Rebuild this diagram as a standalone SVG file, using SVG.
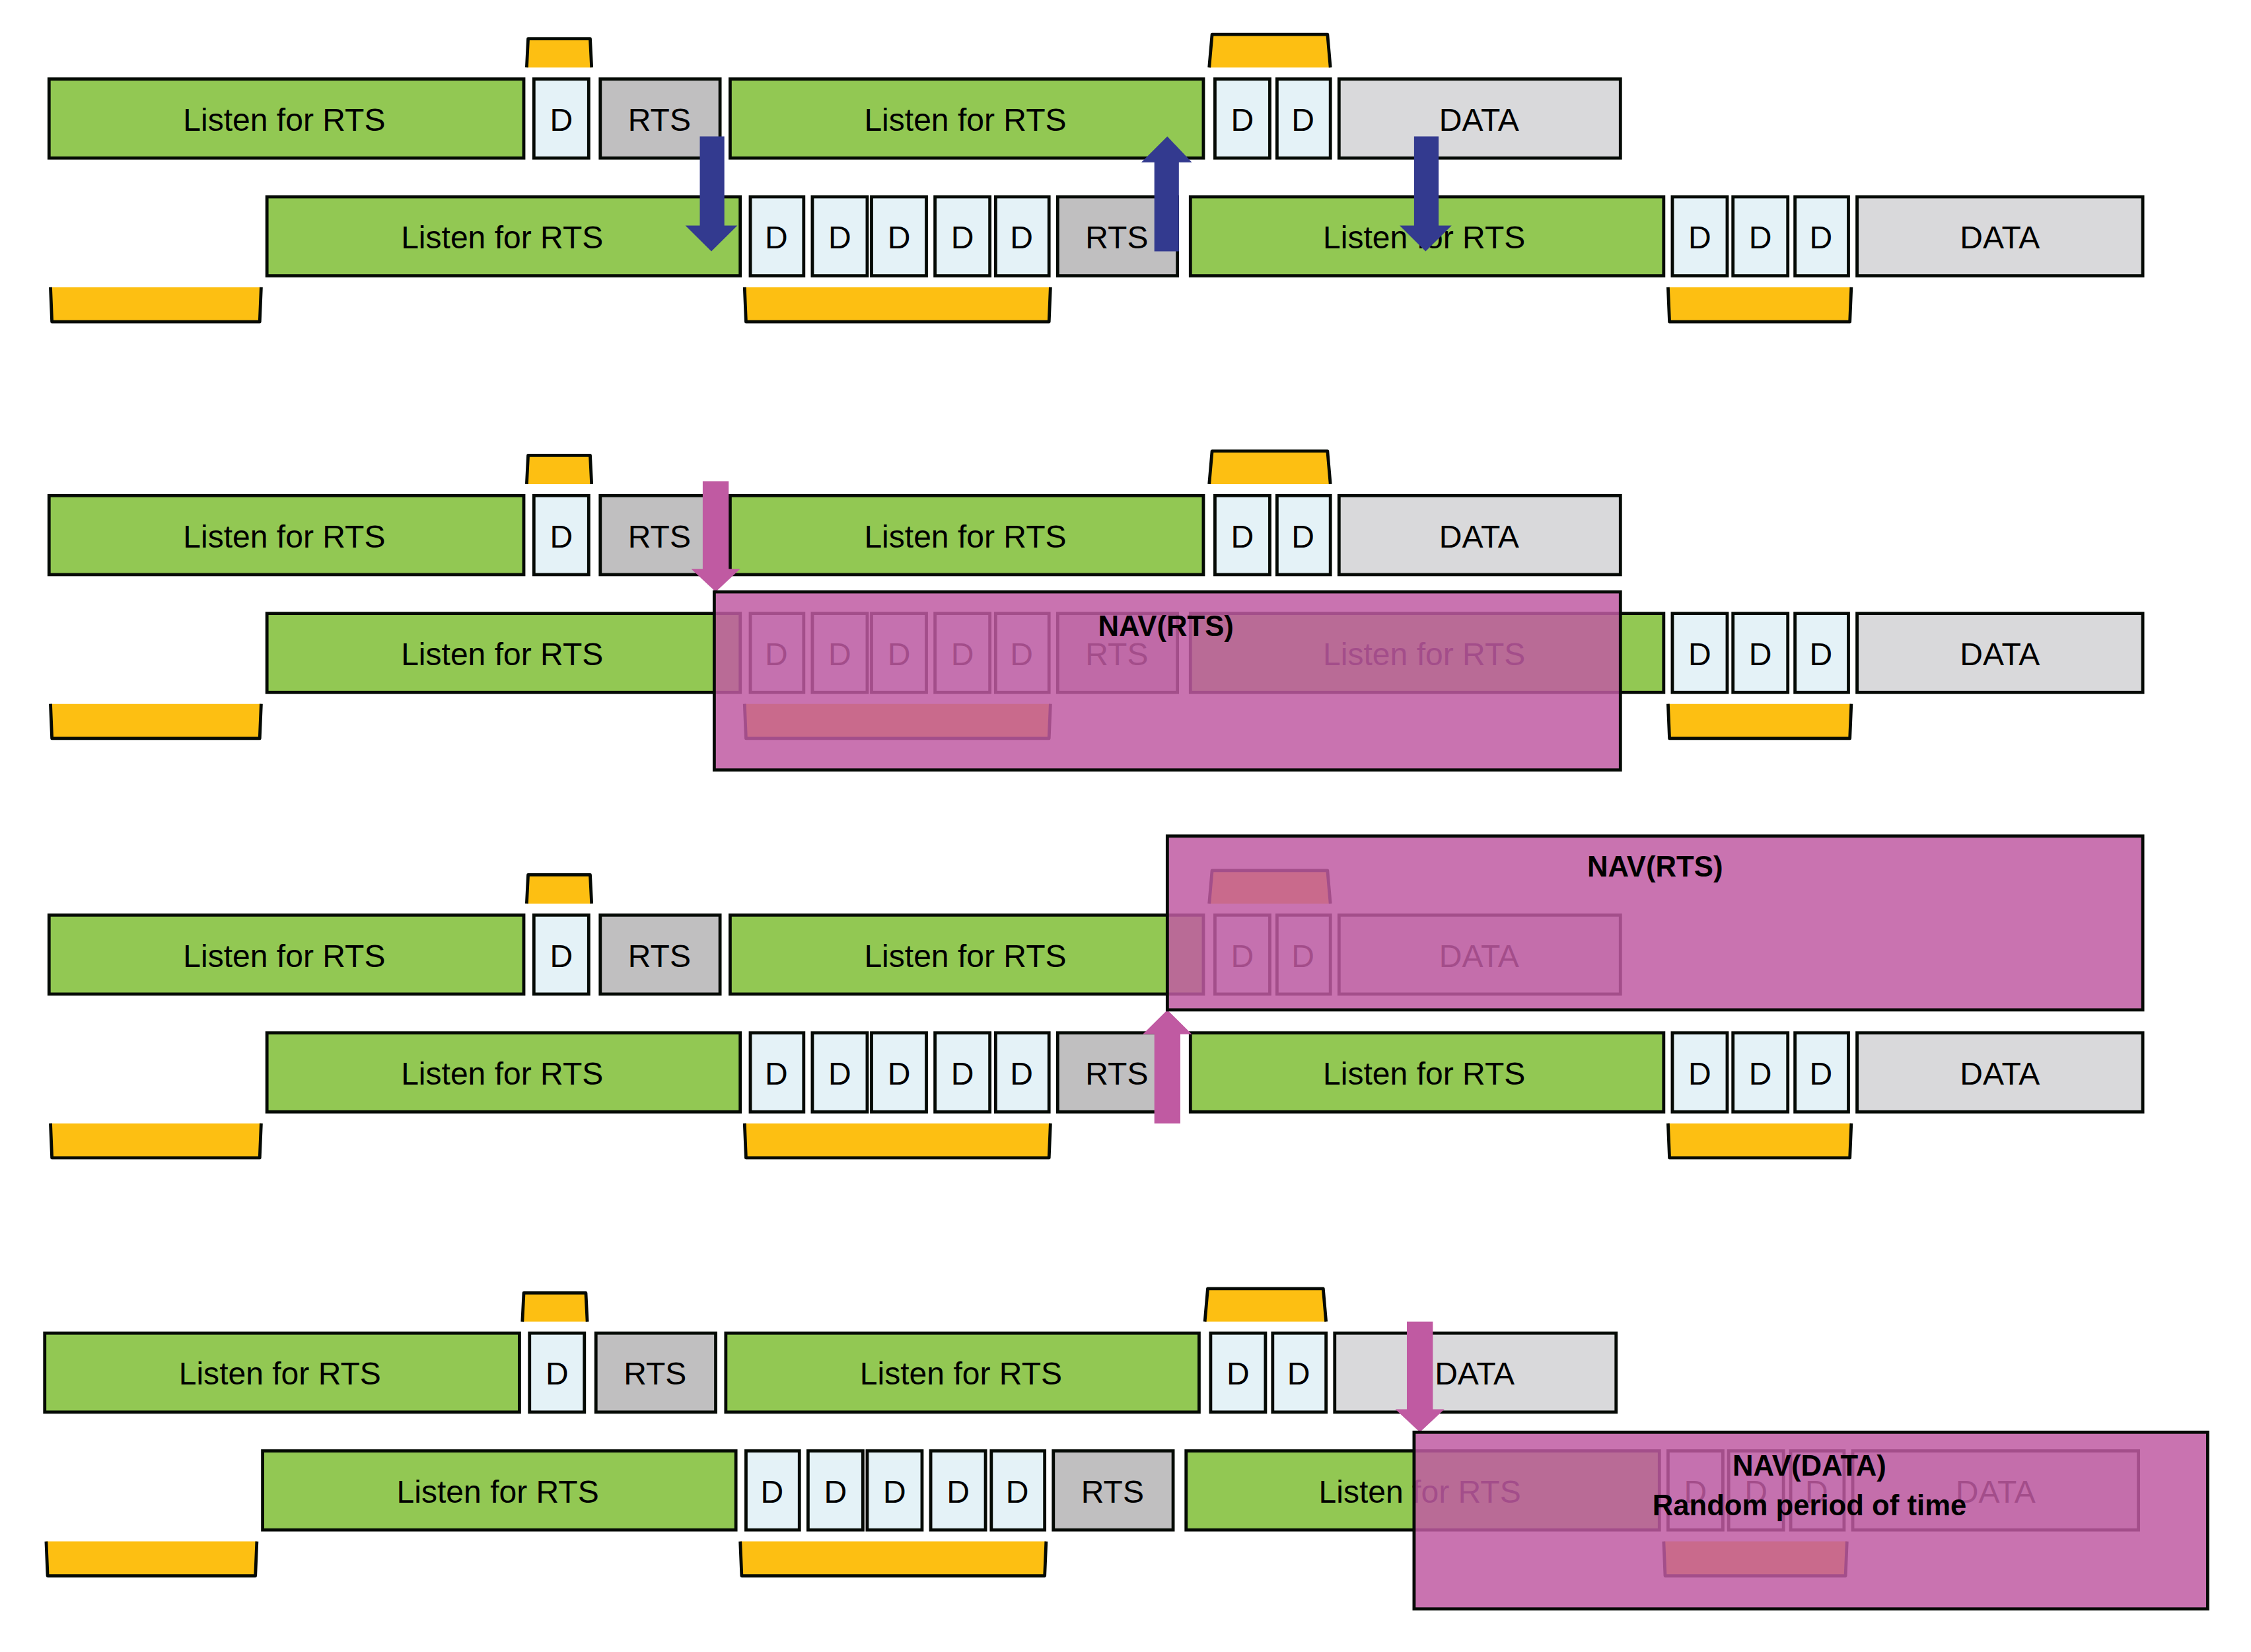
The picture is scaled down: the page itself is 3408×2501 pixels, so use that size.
<svg xmlns="http://www.w3.org/2000/svg" width="3408" height="2501" viewBox="0 0 3408 2501">
<style>
.g{fill:#92c853;stroke:#050a05;stroke-width:2.2}
.d{fill:#e4f2f7;stroke:#050a05;stroke-width:2.2}
.r{fill:#c0bfc0;stroke:#050a05;stroke-width:2.2}
.a{fill:#d9d9db;stroke:#050a05;stroke-width:2.2}
.o{fill:#fdbf12;stroke:#050a05;stroke-width:2.2;stroke-linejoin:round}
text{font-family:"Liberation Sans",Arial,sans-serif;font-size:22px;text-anchor:middle;fill:#000}
.nav{fill:#c05aa2;fill-opacity:0.85;stroke:#050a05;stroke-width:2.2}
.nt{font-weight:bold;font-size:20px}
.ba{fill:#333a8f}.pa{fill:#c05aa2}
</style>
<defs>
<g id="panel">
<g id="tabs">
<path class="o" d="M365,47 L366,27 L409,27 L410,47" />
<path class="o" d="M838,47 L840,24 L920,24 L922,47" />
<path class="o" d="M35,200 L36,224 L180,224 L181,200" />
<path class="o" d="M516,200 L517,224 L727,224 L728,200" />
<path class="o" d="M1156,200 L1157,224 L1282,224 L1283,200" />
<rect x="360" y="47.5" width="70" height="6" fill="#fff"/>
<rect x="830" y="47.5" width="100" height="6" fill="#fff"/>
<rect x="30" y="194" width="160" height="5" fill="#fff"/>
<rect x="510" y="194" width="225" height="5" fill="#fff"/>
<rect x="1150" y="194" width="140" height="5" fill="#fff"/>
</g>
<g id="top">
<rect class="g" x="34" y="55" width="329" height="55"/><text x="197" y="91">Listen for RTS</text>
<rect class="d" x="370" y="55" width="38" height="55"/><text x="389" y="91">D</text>
<rect class="r" x="416" y="55" width="83" height="55"/><text x="457" y="91">RTS</text>
<rect class="g" x="506" y="55" width="328" height="55"/><text x="669" y="91">Listen for RTS</text>
<rect class="d" x="842" y="55" width="38" height="55"/><text x="861" y="91">D</text>
<rect class="d" x="885" y="55" width="37" height="55"/><text x="903" y="91">D</text>
<rect class="a" x="928" y="55" width="195" height="55"/><text x="1025" y="91">DATA</text>
</g>
<g id="bottom">
<rect class="g" x="185" y="137" width="328" height="55"/><text x="348" y="173">Listen for RTS</text>
<rect class="d" x="520" y="137" width="37" height="55"/><text x="538" y="173">D</text>
<rect class="d" x="563" y="137" width="38" height="55"/><text x="582" y="173">D</text>
<rect class="d" x="604" y="137" width="38" height="55"/><text x="623" y="173">D</text>
<rect class="d" x="648" y="137" width="38" height="55"/><text x="667" y="173">D</text>
<rect class="d" x="690" y="137" width="37" height="55"/><text x="708" y="173">D</text>
<rect class="r" x="733" y="137" width="83" height="55"/><text x="774" y="173">RTS</text>
<rect class="g" x="825" y="137" width="328" height="55"/><text x="987" y="173">Listen for RTS</text>
<rect class="d" x="1159" y="137" width="38" height="55"/><text x="1178" y="173">D</text>
<rect class="d" x="1201" y="137" width="38" height="55"/><text x="1220" y="173">D</text>
<rect class="d" x="1244" y="137" width="37" height="55"/><text x="1262" y="173">D</text>
<rect class="a" x="1287" y="137" width="198" height="55"/><text x="1386" y="173">DATA</text>
</g>
</g>
</defs>
<g transform="scale(2.1846 2.1748)">
<g id="panel1"><use href="#panel"/></g>
<g id="panel2" transform="translate(0,290)"><use href="#panel"/></g>
<g id="panel3" transform="translate(0,582)"><use href="#panel"/></g>
<g id="panel4" transform="translate(-3,873)"><use href="#panel"/></g>
<g id="connectors">
<path class="ba" d="M485,95 H502 V157 H511 L493,175 L475,157 H485 Z"/>
<path class="ba" d="M800,175 H817 V113 H826 L809,95 L791,113 H800 Z"/>
<path class="ba" d="M980,95 H997 V157 H1006 L988,175 L970,157 H980 Z"/>
<path class="pa" d="M487,335 H505 V396 H513 L496,412 L479,396 H487 Z"/>
<path class="pa" d="M800,782 H818 V720 H826 L809,703 L792,720 H800 Z"/>
<path class="pa" d="M975,920 H993 V981 H1001 L984,997 L967,981 H975 Z"/>
</g>
<g id="nav1"><rect class="nav" x="495" y="412" width="628" height="124"/><text class="nt" x="808" y="443">NAV(RTS)</text></g>
<g id="nav2"><rect class="nav" x="809" y="582" width="676" height="121"/><text class="nt" x="1147" y="610">NAV(RTS)</text></g>
<g id="nav3"><rect class="nav" x="980" y="997" width="550" height="123"/><text class="nt" x="1254" y="1027">NAV(DATA)</text><text class="nt" x="1254" y="1055">Random period of time</text></g>
</g>
</svg>
